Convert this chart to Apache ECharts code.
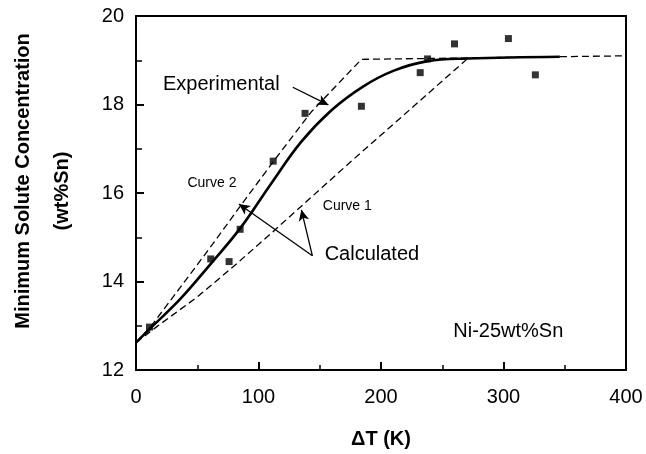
<!DOCTYPE html>
<html>
<head>
<meta charset="utf-8">
<script src="https://cdn.jsdelivr.net/npm/echarts@6/dist/echarts.min.js"></script>
<style>
  html, body { margin: 0; padding: 0; background: #fff; }
  #main { width: 646px; height: 454px; }
</style>
</head>
<body>
<div id="main"></div>
<script>
// measured points (squares)
var measT = [11, 61, 76, 85, 112, 138, 184, 232, 238, 260, 304, 326];
var measC = [12.97, 14.51, 14.45, 15.18, 16.72, 17.8, 17.96, 18.72, 19.03, 19.37, 19.49, 18.67];

// experimental fit (solid)
var expT = [0, 12, 36, 61, 85, 110, 135, 160, 185, 210, 238, 271, 346];
var expC = [12.62, 12.95, 13.6, 14.4, 15.2, 16.2, 17.16, 17.88, 18.4, 18.76, 18.98, 19.04, 19.08];

// calculated curve 2 (upper dashed)
var c2T = [0, 12, 36, 63, 85, 114, 143, 184, 400];
var c2C = [12.62, 12.98, 13.86, 14.86, 15.7, 16.78, 17.83, 19.02, 19.1];

// calculated curve 1 (lower dashed)
var c1T = [0, 17, 50, 80, 110, 175, 214, 270];
var c1C = [12.62, 12.98, 13.65, 14.35, 15.08, 16.7, 17.65, 19.02];

var xTicks = [0, 100, 200, 300, 400];
var yTicks = [12, 14, 16, 18, 20];

function pairs(xs, ys) {
    var out = [];
    for (var i = 0; i < xs.length; i++) out.push([xs[i], ys[i]]);
    return out;
}

var font = '"Liberation Sans", Arial, Helvetica, sans-serif';
var black = '#000';

var myChart = echarts.init(document.getElementById('main'));

function frameAxis(pos, min, max) {
    return {
        type: 'value', position: pos, min: min, max: max,
        axisLine: { show: true, onZero: false, lineStyle: { color: black, width: 2 } },
        axisTick: { show: false }, axisLabel: { show: false }, splitLine: { show: false }
    };
}

var option = {
    animation: false,
    backgroundColor: '#fff',
    grid: { left: 136, right: 20, top: 16, bottom: 80, show: false },
    xAxis: [{
        type: 'value', position: 'bottom', min: xTicks[0], max: xTicks[xTicks.length - 1], interval: 100, z: 5,
        axisLine: { show: true, onZero: false, lineStyle: { color: black, width: 2 } },
        axisTick: { show: true, inside: true, length: 8, lineStyle: { color: black, width: 2 } },
        minorTick: { show: true, splitNumber: 2, length: 5, lineStyle: { color: black, width: 1.5 } },
        splitLine: { show: false },
        axisLabel: { color: black, fontSize: 20, fontFamily: font, margin: 17 },
        name: 'ΔT (K)', nameLocation: 'middle', nameGap: 59,
        nameTextStyle: { color: black, fontSize: 20, fontWeight: 'bold', fontFamily: font }
    }, frameAxis('top', xTicks[0], xTicks[xTicks.length - 1])],
    yAxis: [{
        type: 'value', position: 'left', min: yTicks[0], max: yTicks[yTicks.length - 1], interval: 2, z: 5,
        axisLine: { show: true, onZero: false, lineStyle: { color: black, width: 2 } },
        axisTick: { show: true, inside: true, length: 8, lineStyle: { color: black, width: 2 } },
        minorTick: { show: true, splitNumber: 2, length: 6, lineStyle: { color: black, width: 1.5 } },
        splitLine: { show: false },
        axisLabel: { color: black, fontSize: 20, fontFamily: font, margin: 12 }
    }, frameAxis('right', yTicks[0], yTicks[yTicks.length - 1])],
    series: [{
        name: 'Curve 2', type: 'line', data: pairs(c2T, c2C), showSymbol: false,
        lineStyle: { color: black, width: 1.3, type: [7, 4] }, z: 2
    }, {
        name: 'Curve 1', type: 'line', data: pairs(c1T, c1C), showSymbol: false,
        lineStyle: { color: black, width: 1.3, type: [7, 4] }, z: 2
    }, {
        name: 'Experimental', type: 'line', data: pairs(expT, expC), showSymbol: false,
        smooth: 0.4,
        lineStyle: { color: black, width: 2.6 }, z: 3,
        markLine: {
            silent: true, symbol: ['none', 'arrow'], symbolSize: [8, 11],
            label: { show: false },
            lineStyle: { color: black, width: 1.3, type: 'solid' },
            data: [
                [{ coord: [128, 18.39] }, { coord: [157, 17.99] }],
                [{ coord: [144, 14.58] }, { coord: [84, 15.75] }],
                [{ coord: [144, 14.58] }, { coord: [135, 15.62] }]
            ]
        }
    }, {
        name: 'Measured', type: 'scatter', data: pairs(measT, measC),
        symbol: 'rect', symbolSize: 7, itemStyle: { color: black }, z: 4
    }]
};
myChart.setOption(option);

// annotation texts placed in data coordinates
var notes = [
    { text: 'Experimental', at: [22, 18.46], size: 20, align: 'left' },
    { text: 'Curve 2', at: [62, 16.22], size: 14, align: 'center' },
    { text: 'Curve 1', at: [152.5, 15.71], size: 14, align: 'left' },
    { text: 'Calculated', at: [154, 14.61], size: 20, align: 'left' },
    { text: 'Ni-25wt%Sn', at: [259, 12.87], size: 20, align: 'left' }
];
var elements = [];
notes.forEach(function (n) {
    var p = myChart.convertToPixel({ xAxisIndex: 0, yAxisIndex: 0 }, n.at);
    elements.push({
        type: 'text', x: p[0], y: p[1], silent: true,
        style: { text: n.text, fill: black, font: n.size + 'px ' + font, textAlign: n.align, textVerticalAlign: 'middle' }
    });
});
// y axis title, two lines
elements.push({
    type: 'text', x: 23, y: 181, rotation: Math.PI / 2, silent: true,
    style: { text: 'Minimum Solute Concentration', fill: black, font: 'bold 20px ' + font, textAlign: 'center', textVerticalAlign: 'middle' }
});
elements.push({
    type: 'text', x: 62, y: 191, rotation: Math.PI / 2, silent: true,
    style: { text: '(wt%Sn)', fill: black, font: 'bold 20px ' + font, textAlign: 'center', textVerticalAlign: 'middle' }
});
myChart.setOption({ graphic: elements });
</script>
</body>
</html>
